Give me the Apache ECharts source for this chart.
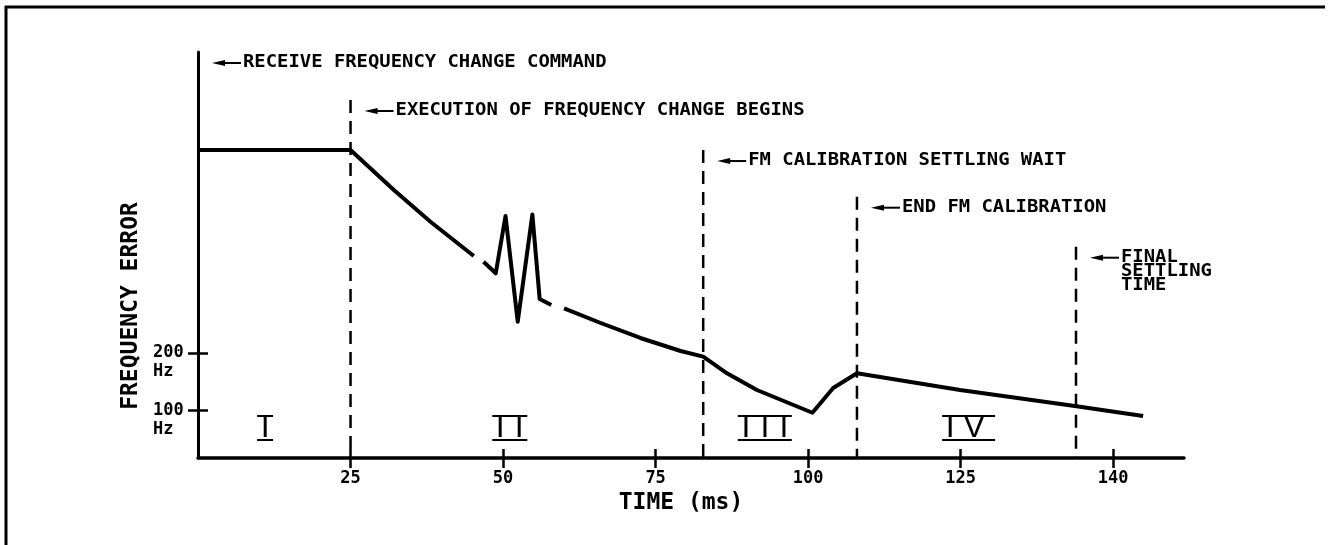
<!DOCTYPE html>
<html><head><meta charset="utf-8">
<script src="https://cdn.jsdelivr.net/npm/echarts@6/dist/echarts.min.js"></script>
<style>html,body{margin:0;padding:0;background:#fff}#chart{width:1330px;height:545px}</style>
</head><body><div id="chart"></div>
<script>
// ---- data ----
const xTickValues = [25, 50, 75, 100, 125, 150];
const xTickLabels = ['25', '50', '75', '100', '125', '140'];
const yTickValues = [100, 200];
const yTickLabels = ['100', '200'];
const yTickUnit = 'Hz';
const X_MAX = 161.6;
const Y_MIN = 18;
const Y_MAX = 722;

const curveSeg1 = [[0, 552], [25, 552], [32.1, 482.7], [38.1, 427.7], [45.2, 368.3]];
const curveSeg2 = [[46.8, 358.4], [48.8, 338.3], [50.4, 437.6], [52.4, 254.3], [54.8, 440.2], [56.0, 293.7], [57.9, 283.3]];
const curveSeg3 = [[60.0, 277.6], [66.0, 252.1], [72.5, 226.1], [79.1, 203.5], [82.8, 193.7], [86.7, 164.9], [91.6, 135.9],
                   [100.7, 96.5], [104.1, 139.4], [108.0, 164.9], [124.9, 135.9], [143.7, 108.2], [154.9, 90.8]];

const markerX = [0, 25, 82.8, 108, 143.9];
const markerTop = [722, 638.8, 552, 471.1, 384.4];
const markerText = ['RECEIVE FREQUENCY CHANGE COMMAND', 'EXECUTION OF FREQUENCY CHANGE BEGINS',
                    'FM CALIBRATION SETTLING WAIT', 'END FM CALIBRATION', 'FINAL\nSETTLING\nTIME'];

const zoneX = [11.0, 51.1, 92.9, 126.3];
const zoneY = [70, 70, 70, 70];
const zoneText = ['I', 'II', 'III', 'IV'];

// ---- chart ----
const MONO = '"DejaVu Sans Mono", monospace';
const chart = echarts.init(document.getElementById('chart'), null, {renderer: 'canvas'});

function renderMarker(params, api) {
  const i = params.dataIndex;
  const p = api.coord([api.value(0), api.value(1)]);
  const base = api.coord([api.value(0), Y_MIN]);
  const children = [];
  if (api.value(0) > 0) {
    children.push({type: 'line', shape: {x1: p[0], y1: p[1], x2: p[0], y2: base[1]},
      style: {stroke: '#000', lineWidth: 2.5, lineDash: [13, 8]}});
  }
  const lines = markerText[i].split('\n').length;
  const lh = 14;
  const ay = p[1] + 11;
  children.push({type: 'polygon', shape: {points: [[p[0] + 14, ay], [p[0] + 27, ay - 3], [p[0] + 27, ay + 3]]},
    style: {fill: '#000'}});
  children.push({type: 'line', shape: {x1: p[0] + 25, y1: ay, x2: p[0] + 43, y2: ay},
    style: {stroke: '#000', lineWidth: 2}});
  children.push({type: 'text', x: p[0] + 45, y: ay + (lines - 1) * lh / 2, scaleX: 1.11,
    style: {text: markerText[i], font: 'bold 17px ' + MONO, fill: '#000', align: 'left', verticalAlign: 'middle',
            textAlign: 'left', textVerticalAlign: 'middle', lineHeight: lh}});
  return {type: 'group', children: children};
}

function renderZone(params, api) {
  const i = params.dataIndex;
  const c = api.coord([api.value(0), api.value(1)]);
  const chars = zoneText[i].split('');
  const adv = ch => ch === 'V' ? 29 : 19;
  const pad = ch => ch === 'V' ? 21 : 8;
  const centers = [0];
  for (let k = 1; k < chars.length; k++) centers.push(centers[k - 1] + (adv(chars[k - 1]) + adv(chars[k])) / 2);
  const left = centers[0] - pad(chars[0]);
  const right = centers[centers.length - 1] + pad(chars[chars.length - 1]);
  const shift = c[0] - (left + right) / 2;
  const children = [];
  chars.forEach((ch, k) => {
    children.push({type: 'text', x: centers[k] + shift, y: c[1],
      style: {text: ch, font: '32px "Liberation Sans", Arial, sans-serif', fill: '#000',
              align: 'center', verticalAlign: 'middle', textAlign: 'center', textVerticalAlign: 'middle'}});
  });
  [-12, 12].forEach(dy => children.push({type: 'line',
    shape: {x1: left + shift, y1: c[1] + dy, x2: right + shift, y2: c[1] + dy},
    style: {stroke: '#000', lineWidth: 2}}));
  return {type: 'group', children: children};
}

const lineStyle = {color: '#000', width: 4, join: 'round', cap: 'butt'};
const curveSeries = [curveSeg1, curveSeg2, curveSeg3].map(seg => ({
  type: 'line', data: seg, symbol: 'none', silent: true, lineStyle: lineStyle, z: 5
}));

const labelFont = {color: '#000', fontFamily: MONO, fontSize: 17, fontWeight: 'bold'};

const option = {
  animation: false,
  backgroundColor: '#fff',
  grid: {left: 198, right: 146, top: 52, bottom: 87},
  xAxis: [{
    type: 'value', min: 0, max: X_MAX, position: 'bottom',
    name: 'TIME (ms)', nameLocation: 'middle', nameGap: 30,
    nameTextStyle: {fontFamily: MONO, fontSize: 23, fontWeight: 'bold', color: '#000', padding: [0, 20, 0, 0]},
    axisLine: {show: true, onZero: false, lineStyle: {color: '#000', width: 3.5}},
    axisTick: {show: true, customValues: xTickValues, length: 10, lineStyle: {color: '#000', width: 2.5}},
    axisLabel: Object.assign({show: true, customValues: xTickValues, margin: 12, hideOverlap: false,
      formatter: v => xTickLabels[xTickValues.indexOf(v)]}, labelFont),
    splitLine: {show: false}
  }, {
    type: 'value', min: 0, max: X_MAX, position: 'bottom',
    axisLine: {show: false},
    axisTick: {show: true, inside: true, customValues: xTickValues, length: 9, lineStyle: {color: '#000', width: 2.5}},
    axisLabel: {show: false}, splitLine: {show: false}
  }],
  yAxis: [{
    type: 'value', min: Y_MIN, max: Y_MAX, position: 'left',
    name: 'FREQUENCY ERROR', nameLocation: 'middle', nameGap: 52, nameRotate: 90,
    nameTextStyle: {fontFamily: MONO, fontSize: 23, fontWeight: 'bold', color: '#000', padding: [0, 102, 0, 0]},
    axisLine: {show: true, onZero: false, lineStyle: {color: '#000', width: 3}},
    axisTick: {show: true, customValues: yTickValues, length: 10, lineStyle: {color: '#000', width: 2.5}},
    axisLabel: Object.assign({show: true, customValues: yTickValues, margin: 45, align: 'left', verticalAlign: 'middle',
      lineHeight: 19, hideOverlap: false,
      formatter: v => ' \n' + yTickLabels[yTickValues.indexOf(v)] + '\n' + yTickUnit}, labelFont),
    splitLine: {show: false}
  }, {
    type: 'value', min: Y_MIN, max: Y_MAX, position: 'left',
    axisLine: {show: false},
    axisTick: {show: true, inside: true, customValues: yTickValues, length: 10, lineStyle: {color: '#000', width: 2.5}},
    axisLabel: {show: false}, splitLine: {show: false}
  }],
  graphic: [
    {type: 'line', shape: {x1: 5, y1: 7, x2: 1325, y2: 7}, style: {stroke: '#000', lineWidth: 3}, silent: true},
    {type: 'line', shape: {x1: 6, y1: 6, x2: 6, y2: 545}, style: {stroke: '#000', lineWidth: 3}, silent: true}
  ],
  series: [
    {type: 'custom', silent: true, z: 3, renderItem: renderMarker,
      data: markerX.map((x, i) => [x, markerTop[i]])},
    {type: 'custom', silent: true, z: 3, renderItem: renderZone,
      data: zoneX.map((x, i) => [x, zoneY[i]])}
  ].concat(curveSeries)
};
chart.setOption(option);
</script>
</body></html>
